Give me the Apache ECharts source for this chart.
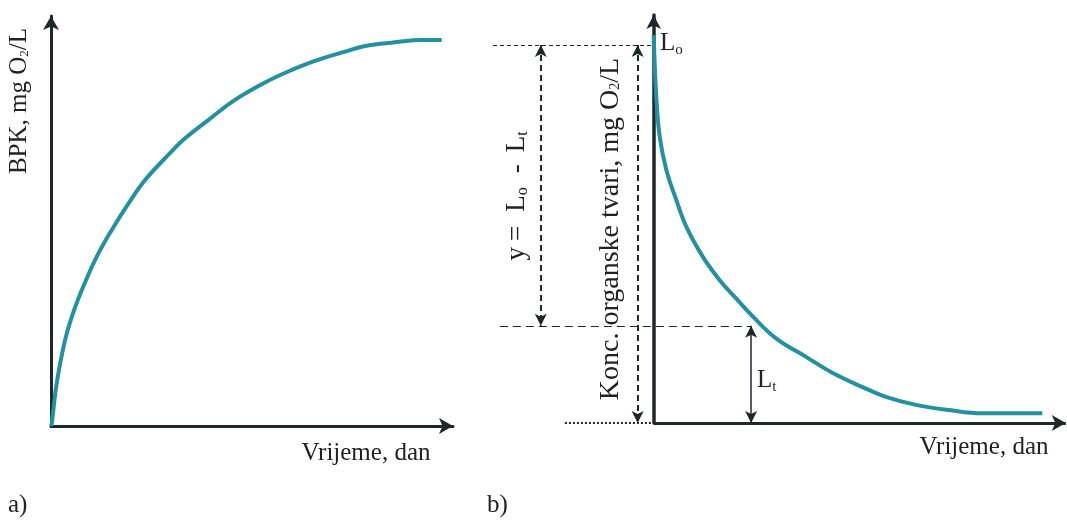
<!DOCTYPE html>
<html><head><meta charset="utf-8">
<script src="https://cdn.jsdelivr.net/npm/echarts@6/dist/echarts.min.js"></script>
<style>html,body{margin:0;padding:0;background:#fff}#c{width:1067px;height:522px}</style>
</head><body><div id="c"></div>
<script>
// Panel a) BPK curve (time in arbitrary day units, BPK in arbitrary units)
const leftX = [0, 0.04, 0.29, 0.71, 1.13, 1.62, 2.31, 3.07, 3.9, 4.75, 5.92, 6.77, 7.94, 9.29, 10.81, 11.98, 13.33, 14.85, 15.86, 17.37, 18.72, 19.73];
const leftY = [0, 0.07, 1.06, 2.12, 2.81, 3.43, 4.18, 4.84, 5.48, 6.07, 6.69, 7.1, 7.55, 8.05, 8.48, 8.75, 9.01, 9.24, 9.38, 9.47, 9.53, 9.53];
// Panel b) organic matter concentration decay
const rightX = [0, 0.13, 0.3, 0.63, 1.12, 1.61, 2.43, 3.25, 4.07, 4.9, 6.04, 7.52, 8.84, 10.31, 11.46, 12.94, 14.58, 16.22, 19.18];
const rightY = [9.62, 8.09, 7.1, 6.27, 5.53, 4.87, 4.12, 3.55, 3.09, 2.64, 2.1, 1.64, 1.24, 0.89, 0.65, 0.45, 0.32, 0.24, 0.24];
// annotation values (panel b)
const L0 = 9.375;         // Lo level
const Lt = 2.41;          // Lt level
const tLt = 4.81;         // time at which Lt is marked
const xAxisEndR = 20.34;  // x-axis end (arrow)
const xTopDash = -7.93, xMidDash = -7.59, xDotted = -4.38;
const xArrowY = -5.57, xArrowKonc = -0.79;

const AX = '#1f272b', CURVE = '#2391a0', FONT = 'Liberation Serif', TXT = '#222';
const chart = echarts.init(document.getElementById('c'), null, {renderer: 'canvas'});

function hidden(extra){return Object.assign({axisTick:{show:false},axisLabel:{show:false},splitLine:{show:false}}, extra);}

const arrowPair = (x, y1, y2, w, dashed) => [
  {coord:[x, y1], symbol:'arrow', symbolSize:[9,12], lineStyle:{color:AX, width:w, type: dashed ? [6,4] : 'solid'}},
  {coord:[x, y2], symbol:'arrow', symbolSize:[9,12]}
];
const rich = (nSize, subSize, pad) => ({
  n:{fontFamily:FONT, fontSize:nSize, lineHeight:nSize+3, fill:TXT, verticalAlign:'top'},
  s:{fontFamily:FONT, fontSize:subSize, lineHeight:subSize, fill:TXT, verticalAlign:'top', padding:[pad,0,0,0]},
  e:{fontFamily:FONT, fontSize:nSize, lineHeight:nSize+3, fill:TXT, verticalAlign:'top', padding:[0,14,0,6]},
  g:{fontFamily:FONT, fontSize:nSize, lineHeight:nSize+3, fill:TXT, verticalAlign:'top', padding:[0,12,0,14]}
});

chart.setOption({
  animation:false,
  grid:[
    {left:51, top:16, width:402, height:410},
    {left:654 - 9*20.3, top:15, width:29.4*20.3, height:408}
  ],
  xAxis:[
    hidden({type:'value', gridIndex:0, min:0, max:20.3, axisLine:{show:true, symbol:['none','arrow'], symbolSize:[12,14], lineStyle:{color:AX, width:3}}}),
    hidden({type:'value', gridIndex:1, min:-9, max:20.4, axisLine:{show:false}})
  ],
  yAxis:[
    hidden({type:'value', gridIndex:0, min:0, max:10.12, axisLine:{show:true, symbol:['none','arrow'], symbolSize:[12,14], lineStyle:{color:AX, width:3}}}),
    hidden({type:'value', gridIndex:1, min:0, max:10.12, axisLine:{show:true, onZero:true, symbol:['none','arrow'], symbolSize:[11,14], lineStyle:{color:AX, width:3.5}}})
  ],
  series:[
    {type:'line', xAxisIndex:0, yAxisIndex:0, data:leftX.map((x,i)=>[x,leftY[i]]), showSymbol:false, smooth:0.4,
     lineStyle:{color:CURVE, width:4}, z:3},
    {type:'line', xAxisIndex:1, yAxisIndex:1, data:rightX.map((x,i)=>[x,rightY[i]]), showSymbol:false, smooth:0.4,
     lineStyle:{color:CURVE, width:4}, z:3,
     markLine:{silent:true, animation:false, label:{show:false}, symbol:'none', precision:4,
       data:[
         [{coord:[0,0], symbol:'none', lineStyle:{color:AX, width:3, type:'solid'}}, {coord:[xAxisEndR,0], symbol:'arrow', symbolSize:[12,14]}],
         [{coord:[xDotted,0], symbol:'none', lineStyle:{color:AX, width:2, type:[2,2]}}, {coord:[0,0], symbol:'none'}],
         [{coord:[xTopDash,L0], symbol:'none', lineStyle:{color:AX, width:1, type:[4,3]}}, {coord:[0,L0], symbol:'none'}],
         [{coord:[xMidDash,Lt], symbol:'none', lineStyle:{color:AX, width:1, type:[8,5]}}, {coord:[tLt,Lt], symbol:'none'}],
         arrowPair(xArrowY, L0, Lt, 2, true),
         arrowPair(xArrowKonc, L0, 0, 2, true),
         arrowPair(tLt, Lt, 0, 1.5, false)
       ]}}
  ],
  graphic:[
    {type:'text', x:21, y:101, rotation:Math.PI/2, style:{text:'{n|BPK, mg O}{s|2}{n|/L}', textAlign:'center', textVerticalAlign:'middle', rich:rich(25,13,11)}},
    {type:'text', x:366, y:453, style:{text:'Vrijeme, dan', font:'25px "Liberation Serif"', fill:TXT, textAlign:'center', textVerticalAlign:'middle'}},
    {type:'text', x:984, y:447, style:{text:'Vrijeme, dan', font:'25px "Liberation Serif"', fill:TXT, textAlign:'center', textVerticalAlign:'middle'}},
    {type:'text', x:8, y:505, style:{text:'a)', font:'25px "Liberation Serif"', fill:TXT, textVerticalAlign:'middle'}},
    {type:'text', x:487, y:505, style:{text:'b)', font:'25px "Liberation Serif"', fill:TXT, textVerticalAlign:'middle'}},
    {type:'text', x:660, y:45, style:{text:'{n|L}{s|o}', textVerticalAlign:'middle', rich:rich(25,15,12)}},
    {type:'text', x:757, y:382, style:{text:'{n|L}{s|t}', textVerticalAlign:'middle', rich:rich(25,15,12)}},
    {type:'text', x:518, y:196, rotation:Math.PI/2, style:{text:'{n|y}{e|=}{n|L}{s|o}{g|-}{n|L}{s|t}', textAlign:'center', textVerticalAlign:'middle', rich:rich(27,16,12)}},
    {type:'text', x:612, y:229, rotation:Math.PI/2, style:{text:'{n|Konc. organske tvari, mg O}{s|2}{n|/L}', textAlign:'center', textVerticalAlign:'middle', rich:rich(28,14,12)}}
  ]
});
</script></body></html>
